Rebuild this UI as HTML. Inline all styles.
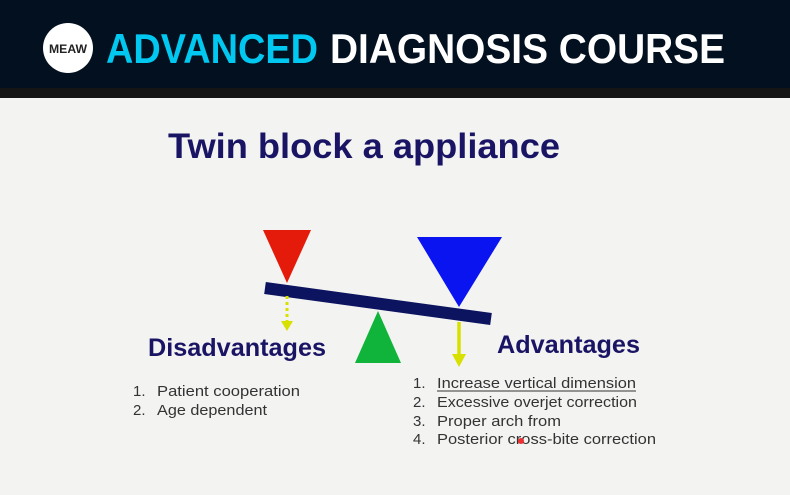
<!DOCTYPE html>
<html><head><meta charset="utf-8"><style>
html,body{margin:0;padding:0;width:790px;height:495px;overflow:hidden;background:#f3f3f3}
svg{display:block}
text{font-family:"Liberation Sans",sans-serif}
</style></head><body>
<svg width="790" height="495" viewBox="0 0 790 495" xmlns="http://www.w3.org/2000/svg">
<rect x="0" y="0" width="790" height="495" fill="#f3f3f2"/>
<rect x="0" y="0" width="790" height="88" fill="#03101f"/>
<rect x="0" y="88" width="790" height="10" fill="#151515"/>
<circle cx="68" cy="48" r="25" fill="#ffffff"/>
<text x="68" y="53" font-size="12" font-weight="bold" fill="#222" text-anchor="middle" textLength="38" lengthAdjust="spacingAndGlyphs">MEAW</text>
<text x="106" y="63" font-size="42" font-weight="bold" fill="#00c8f0" textLength="212" lengthAdjust="spacingAndGlyphs">ADVANCED</text>
<text x="330" y="63" font-size="42" font-weight="bold" fill="#ffffff" textLength="395" lengthAdjust="spacingAndGlyphs">DIAGNOSIS COURSE</text>

<text x="168" y="158" font-size="35" font-weight="bold" fill="#1a1464" textLength="392" lengthAdjust="spacingAndGlyphs">Twin block a appliance</text>

<polygon points="263,230 311,230 287,283" fill="#e41a0a"/>
<polygon points="417,237 502,237 459,307" fill="#0a14f0"/>
<line x1="265" y1="288" x2="491" y2="319" stroke="#0c1460" stroke-width="12"/>
<polygon points="355,363 401,363 378,311" fill="#10b43a"/>
<line x1="287" y1="296" x2="287" y2="322" stroke="#d8e000" stroke-width="3" stroke-dasharray="3,3"/>
<polygon points="281,321 293,321 287,331" fill="#d8e000"/>
<line x1="459" y1="322" x2="459" y2="356" stroke="#d8e000" stroke-width="3.5"/>
<polygon points="452,354 466,354 459,367" fill="#d8e000"/>

<text x="148" y="356" font-size="25" font-weight="bold" fill="#1a1464" textLength="178" lengthAdjust="spacingAndGlyphs">Disadvantages</text>
<text x="497" y="353" font-size="25" font-weight="bold" fill="#1a1464" textLength="143" lengthAdjust="spacingAndGlyphs">Advantages</text>

<g font-size="15" fill="#333">
<text x="133" y="396">1.</text><text x="157" y="396" textLength="143" lengthAdjust="spacingAndGlyphs">Patient cooperation</text>
<text x="133" y="415">2.</text><text x="157" y="415" textLength="110" lengthAdjust="spacingAndGlyphs">Age dependent</text>
<text x="413" y="388">1.</text><text x="437" y="388" textLength="199" lengthAdjust="spacingAndGlyphs">Increase vertical dimension</text>
<line x1="437" y1="391" x2="636" y2="391" stroke="#333" stroke-width="1"/>
<text x="413" y="407">2.</text><text x="437" y="407" textLength="200" lengthAdjust="spacingAndGlyphs">Excessive overjet correction</text>
<text x="413" y="426">3.</text><text x="437" y="426" textLength="124" lengthAdjust="spacingAndGlyphs">Proper arch from</text>
<text x="413" y="444">4.</text><text x="437" y="444" textLength="219" lengthAdjust="spacingAndGlyphs">Posterior cross-bite correction</text>
</g>
<circle cx="521" cy="441" r="3" fill="#ee3030"/>
</svg>
</body></html>
